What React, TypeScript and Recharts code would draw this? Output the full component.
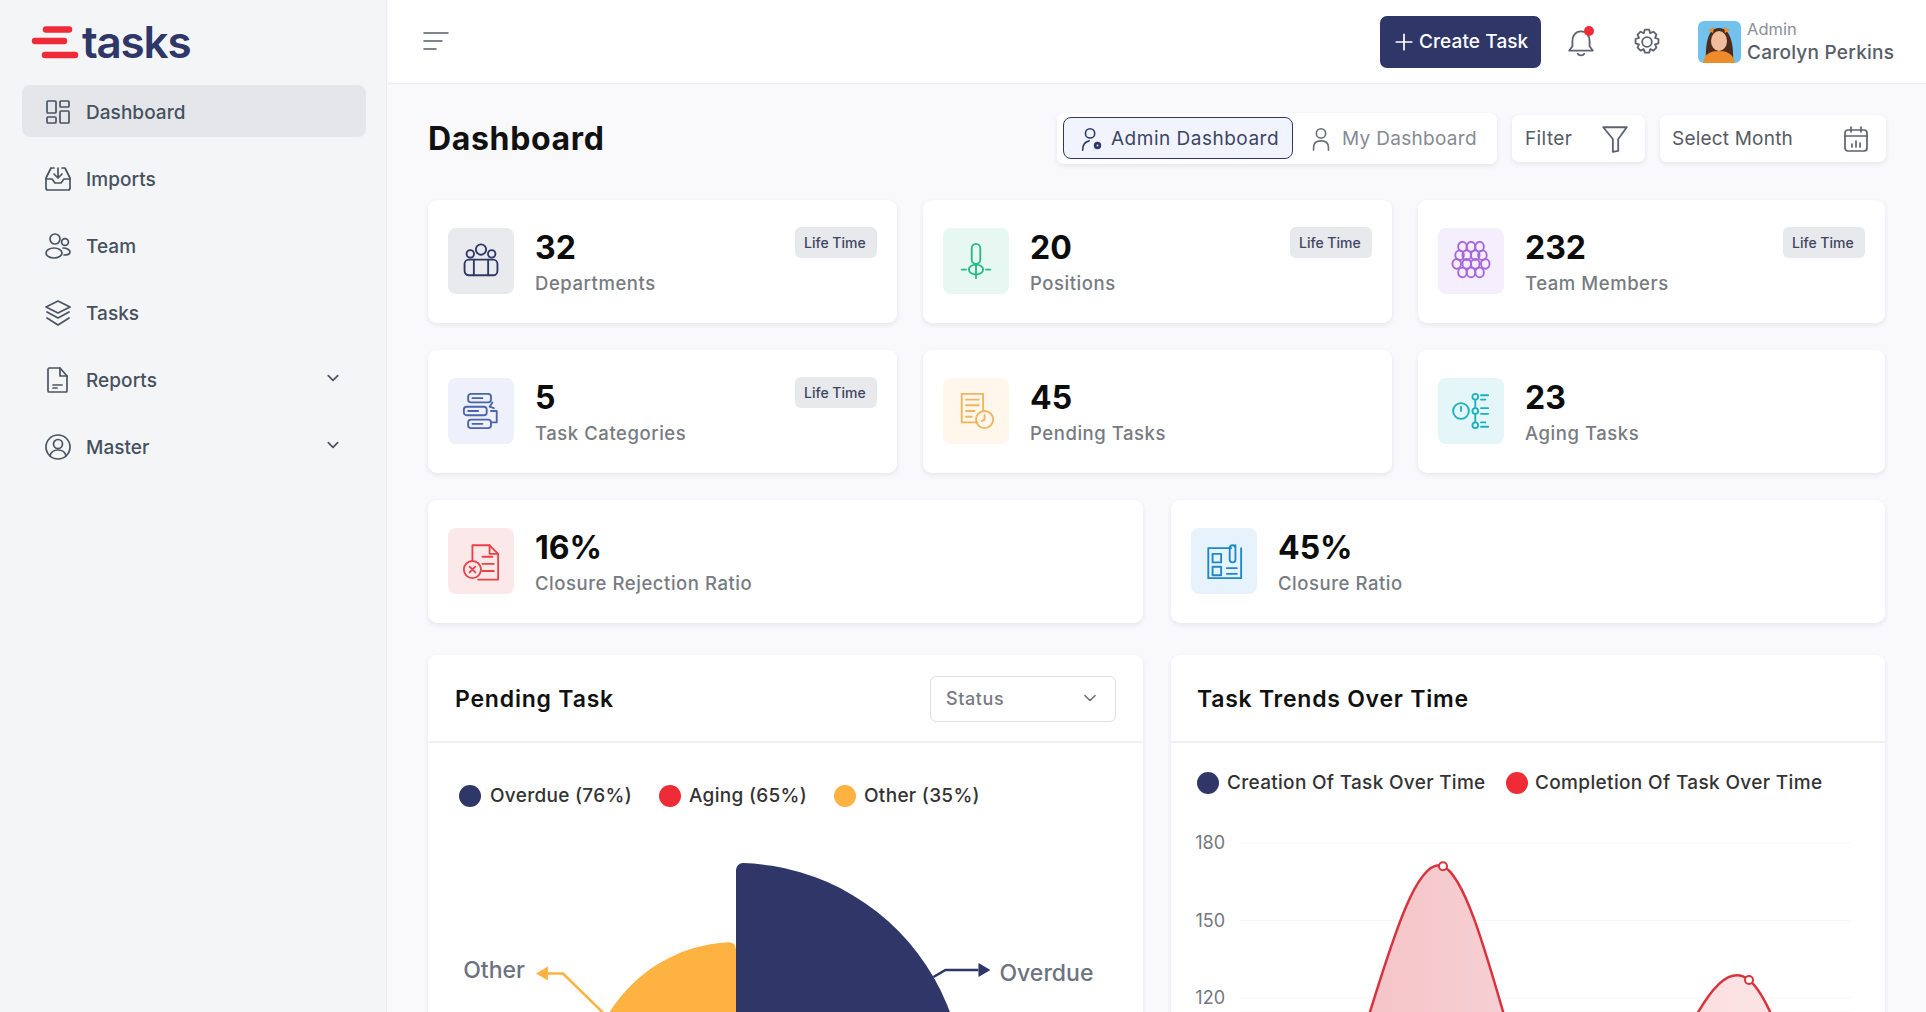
import React from "react";
import { Area, AreaChart, CartesianGrid, Pie, PieChart, XAxis, YAxis } from "recharts";

const NAVY = "#2f3768";
const RED = "#ee2b36";
const AMBER = "#fdb241";
const FONT = "Inter, 'Noto Sans', sans-serif";

// pending task rose chart
const pendingNames = ["Overdue", "Aging", "Other"];
const pendingShares = [76, 65, 35];
const pendingLegend = ["Overdue (76%)", "Aging (65%)", "Other (35%)"];

// task trends, the picture is cut off just under the 120 tick
const trendMonths = ["Jan", "Feb", "Mar", "Apr", "May", "Jun", "Jul"];
const creationValues = [40, 75, 95, 60, 50, 85, 45];
const completionValues = [20, 80, 171, 65, 75, 127, 0];
const trendTicks = [120, 150, 180];
const markedMonths = ["Mar", "Jun"];

const navItems = ["Dashboard", "Imports", "Team", "Tasks", "Reports", "Master"];
const statValues = ["32", "20", "232", "5", "45", "23", "16%", "45%"];
const statLabels = [
  "Departments",
  "Positions",
  "Team Members",
  "Task Categories",
  "Pending Tasks",
  "Aging Tasks",
  "Closure Rejection Ratio",
  "Closure Ratio",
];

const trendRows = trendMonths.map((month, i) => ({
  month,
  creation: creationValues[i],
  completion: completionValues[i],
}));

const sectorRadius: Record<string, number> = { Overdue: 228, Aging: 190, Other: 149 };
const sectorColor: Record<string, string> = { Overdue: NAVY, Aging: RED, Other: AMBER };
const leaderShape: Record<string, { out: number; up: number; run: number }> = {
  Overdue: { out: 12, up: 7, run: 33 },
  Other: { out: 44, up: 43, run: 15 },
};

function T({ x, y, size, weight = 400, color = "#333", children, spacing }: any) {
  return (
    <div
      style={{
        position: "absolute",
        left: x,
        top: y + 1,
        transform: "translateY(-50%)",
        fontSize: size,
        fontWeight: weight,
        color,
        whiteSpace: "nowrap",
        lineHeight: 1.2,
        letterSpacing: spacing,
      }}
    >
      {children}
    </div>
  );
}

function Box({ x, y, w, h, style }: any) {
  return <div style={{ position: "absolute", left: x, top: y, width: w, height: h, boxSizing: "border-box", ...style }} />;
}

function Ico({ x, y, size = 28, color = "#4a5462", sw = 1.7, children }: any) {
  return (
    <svg
      width={size}
      height={size}
      viewBox="0 0 28 28"
      fill="none"
      stroke={color}
      strokeWidth={sw}
      strokeLinecap="round"
      strokeLinejoin="round"
      style={{ position: "absolute", left: x - size / 2, top: y - size / 2 }}
    >
      {children}
    </svg>
  );
}

const chevron = <path d="M8 11l6 6 6-6" />;

const navIcons = [
  <g key="d">
    <rect x="3" y="3" width="9" height="12" rx="1" />
    <rect x="16" y="3" width="9" height="6" rx="1" />
    <rect x="3" y="19" width="9" height="6" rx="1" />
    <rect x="16" y="13" width="9" height="12" rx="1" />
  </g>,
  <g key="i">
    <path d="M7 3h3M18 3h3l5 10v10a2 2 0 0 1-2 2H4a2 2 0 0 1-2-2V13L7 3" />
    <path d="M2 14h6l3 4h6l3-4h6M14 3v10M10 9l4 4 4-4" />
  </g>,
  <g key="t">
    <circle cx="11" cy="7" r="5" />
    <circle cx="21" cy="10" r="3.4" />
    <ellipse cx="10" cy="21" rx="8" ry="5" />
    <path d="M19 16c4 0 7 2 7 4s-2 3-6 3" />
  </g>,
  <g key="s">
    <path d="M14 2l12 6-12 6L2 8z" />
    <path d="M3 13l11 6 11-6M3 19l11 7 11-7" />
  </g>,
  <g key="r">
    <path d="M5 2h11l7 8v15a1 1 0 0 1-1 1H5a1 1 0 0 1-1-1V3z" />
    <path d="M16 2v8h7M9 19h9M9 22h4" />
  </g>,
  <g key="m">
    <circle cx="14" cy="14" r="12" />
    <circle cx="14" cy="11" r="4.5" />
    <path d="M6 23c1-5 4-6 8-6s7 1 8 6" />
  </g>,
];

const statIcons = [
  <g key="0">
    <circle cx="14" cy="6" r="3.6" />
    <circle cx="6.5" cy="9" r="2.6" />
    <circle cx="21.5" cy="9" r="2.6" />
    <rect x="2.5" y="13" width="23" height="11" rx="3" />
    <path d="M9 13v11M19 13v11" />
  </g>,
  <g key="1">
    <rect x="11" y="2" width="6" height="14" rx="3" />
    <ellipse cx="14" cy="20" rx="5" ry="3.5" />
    <path d="M14 16v10M4 20h3M21 20h3" />
  </g>,
  <g key="2">
    {[
      [8, 4],
      [14, 4],
      [20, 4],
      [6, 10],
      [11, 10],
      [17, 10],
      [22, 10],
      [4, 16],
      [11, 16],
      [17, 16],
      [24, 16],
      [8, 22],
      [14, 22],
      [20, 22],
    ].map(([cx, cy], i) => (
      <ellipse key={i} cx={cx} cy={cy} rx="3" ry="3.4" />
    ))}
  </g>,
  <g key="3">
    <rect x="5" y="2" width="16" height="6" rx="2" />
    <rect x="2" y="11" width="16" height="6" rx="2" />
    <rect x="5" y="20" width="16" height="6" rx="2" />
    <path d="M8 5h7M5 14h7M8 23h7M21 14h4v8h-4M22 8l-2 3 3 1" />
  </g>,
  <g key="4">
    <path d="M15 22H4V2h15v12" />
    <path d="M7 6h9M7 10h9M7 14h6M7 18h4" />
    <circle cx="20" cy="20" r="6" />
    <path d="M20 17v3l-2 1" />
  </g>,
  <g key="5">
    <path d="M17 4v20" />
    <circle cx="17" cy="4" r="2" fill="#e5f6f8" />
    <circle cx="17" cy="14" r="2" fill="#e5f6f8" />
    <circle cx="17" cy="24" r="2" fill="#e5f6f8" />
    <circle cx="7" cy="14" r="5.5" />
    <path d="M7 11v3M21 3h5M21 6h3M21 12h5M21 16h5M21 22h3M21 25h5" />
  </g>,
  <g key="6">
    <path d="M8 14V3h12l6 6v18H12" />
    <path d="M20 3v6h6M15 11h7M15 16h8M15 21h8" />
    <circle cx="8" cy="20" r="6" />
    <path d="M6 18l4 4M10 18l-4 4" />
  </g>,
  <g key="7">
    <path d="M19 5H3v21h23V5" />
    <rect x="6" y="9" width="6" height="6" />
    <rect x="6" y="18" width="6" height="6" />
    <path d="M22 3v10a2 2 0 0 1-4 0V5a2 2 0 0 1 4 0M16 19h7M16 23h7" />
  </g>,
];

const statCards = [
  { x: 428, y: 200, w: 469, tile: "#e9eaee", ink: NAVY, life: true },
  { x: 923, y: 200, w: 469, tile: "#e7f7f2", ink: "#26b98a", life: true },
  { x: 1418, y: 200, w: 467, tile: "#f5eefc", ink: "#a566e0", life: true },
  { x: 428, y: 350, w: 469, tile: "#eef1fb", ink: "#4a63ad", life: true },
  { x: 923, y: 350, w: 469, tile: "#fff6ec", ink: "#f0b55e", life: false },
  { x: 1418, y: 350, w: 467, tile: "#e5f6f8", ink: "#1bb0bf", life: false },
  { x: 428, y: 500, w: 715, tile: "#fbe9ea", ink: "#e8434b", life: false },
  { x: 1171, y: 500, w: 714, tile: "#e6f3fc", ink: "#1d88c8", life: false },
];

const cardStyle = {
  background: "#fff",
  borderRadius: 9,
  boxShadow: "0 2px 5px rgba(30,40,70,0.09)",
};

function sectorLabel(props: any) {
  const { cx, cy, midAngle, outerRadius, name } = props;
  const leader = leaderShape[name];
  if (!leader) return null; // the aging label sits below the visible part
  const rad = (midAngle * Math.PI) / 180;
  const sx = cx + outerRadius * Math.cos(rad);
  const sy = cy - outerRadius * Math.sin(rad);
  const dir = Math.cos(rad) >= 0 ? 1 : -1;
  const ex = sx + dir * leader.out;
  const ey = sy - leader.up;
  const bx = ex + dir * leader.run;
  const color = sectorColor[name];
  return (
    <g>
      <path d={`M${sx},${sy}L${ex},${ey}H${bx}`} fill="none" stroke={color} strokeWidth={2.5} />
      <path d={`M${bx},${ey - 7}L${bx + dir * 12},${ey}L${bx},${ey + 7}Z`} fill={color} />
      <text
        x={bx + dir * (name === "Other" ? 23 : 21)}
        y={ey + (name === "Other" ? 4 : 11)}
        textAnchor={dir > 0 ? "start" : "end"}
        fontSize={23}
        fontWeight={500}
        fill="#6d7280"
        fontFamily={FONT}
      >
        {name}
      </text>
    </g>
  );
}

function PendingChart() {
  return (
    <PieChart width={716} height={182} margin={{ top: 0, right: 0, bottom: 0, left: 0 }}>
      {pendingNames.map((name, i) => (
        <Pie
          key={name}
          data={[{ name, value: pendingShares[i] }]}
          dataKey="value"
          nameKey="name"
          cx={308}
          cy={261}
          innerRadius={0}
          outerRadius={sectorRadius[name]}
          startAngle={90 - i * 120}
          endAngle={-30 - i * 120}
          cornerRadius={7}
          fill={sectorColor[name]}
          stroke="none"
          label={sectorLabel}
          labelLine={false}
          isAnimationActive={false}
        />
      ))}
    </PieChart>
  );
}

function peakDot(props: any) {
  const { cx, cy, payload, index } = props;
  if (!markedMonths.includes(payload.month)) return <g key={index} />;
  return <circle key={index} cx={cx} cy={cy} r={4} fill="#fff" stroke="#d9333d" strokeWidth={2} />;
}

function TrendChart() {
  return (
    <AreaChart width={715} height={182} data={trendRows} margin={{ top: 13, right: 35, bottom: 0, left: 0 }}>
      <defs>
        <linearGradient id="fill-completion" x1="0" y1="0" x2="1" y2="0">
          <stop offset="20%" stopColor="#f4c4c8" />
          <stop offset="90%" stopColor="#fce6e7" />
        </linearGradient>
      </defs>
      <CartesianGrid vertical={false} stroke="#f6f6f8" />
      <XAxis dataKey="month" hide />
      <YAxis
        width={68}
        domain={[114.6, 180]}
        allowDataOverflow
        ticks={trendTicks}
        axisLine={false}
        tickLine={false}
        tickSize={0}
        tickMargin={14}
        tick={{ fontSize: 18, fill: "#73777f", fontFamily: FONT }}
      />
      <Area
        type="natural"
        dataKey="creation"
        stroke={NAVY}
        strokeWidth={2.5}
        fill={NAVY}
        fillOpacity={0.2}
        isAnimationActive={false}
      />
      <Area
        type="natural"
        dataKey="completion"
        stroke="#d9333d"
        strokeWidth={2.5}
        fill="url(#fill-completion)"
        fillOpacity={1}
        dot={peakDot}
        isAnimationActive={false}
      />
    </AreaChart>
  );
}

function Dot({ x, y, color }: any) {
  return <Box x={x - 11} y={y - 11} w={22} h={22} style={{ background: color, borderRadius: "50%" }} />;
}

export default function App() {
  return (
    <div style={{ position: "relative", width: 1926, height: 1012, overflow: "hidden", background: "#f9f9fc", fontFamily: FONT }}>
      <style>{"body{margin:0;overflow:hidden}"}</style>

      {/* sidebar */}
      <Box x={0} y={0} w={387} h={1012} style={{ background: "#f4f5f7", borderRight: "1px solid #ececef" }} />
      <svg width={50} height={40} style={{ position: "absolute", left: 30, top: 24 }}>
        <path d="M16 5.5H39M5 17H34M15 31H45" stroke={RED} strokeWidth={6.5} strokeLinecap="round" />
      </svg>
      <T x={82} y={41} size={44} weight={600} color={NAVY} spacing={-1.2}>
        tasks
      </T>
      <Box x={22} y={85} w={344} h={52} style={{ background: "#e5e6e9", borderRadius: 8 }} />
      {navItems.map((item, i) => (
        <React.Fragment key={item}>
          <Ico x={58} y={112 + i * 67}>
            {navIcons[i]}
          </Ico>
          <T x={86} y={112 + i * 66.9} size={19} weight={500} color="#465160" spacing={0.05}>
            {item}
          </T>
          {i >= 4 && (
            <Ico x={333} y={112 + i * 67 - 2} size={22} sw={2.2}>
              {chevron}
            </Ico>
          )}
        </React.Fragment>
      ))}

      {/* top bar */}
      <Box x={388} y={0} w={1538} h={84} style={{ background: "#fff", borderBottom: "1px solid #ebebee" }} />
      <Ico x={436} y={41} size={28} color="#555b66" sw={1.6}>
        <path d="M2 6h24M2 14h18M2 22h12" />
      </Ico>
      <Box x={1380} y={16} w={161} h={52} style={{ background: NAVY, borderRadius: 7 }} />
      <Ico x={1404} y={42} size={24} color="#fff" sw={2}>
        <path d="M14 5v18M5 14h18" />
      </Ico>
      <T x={1419} y={41} size={19} weight={500} color="#fff" spacing={0.1}>
        Create Task
      </T>
      <Ico x={1581} y={42} size={30} color="#5c6270">
        <path d="M14 4c-5 0-8 4-8 9v5l-3 4h22l-3-4v-5c0-5-3-9-8-9zM11 25c1 2 5 2 6 0" />
      </Ico>
      <Box x={1584} y={26} w={10} h={10} style={{ background: RED, borderRadius: "50%" }} />
      <Ico x={1647} y={42} size={30} color="#5c6270">
        <circle cx="14" cy="14" r="4.5" />
        <path d="M12 2.5h4l1 3.2 3-1.3 2.8 2.8-1.3 3 3.2 1v4l-3.2 1 1.3 3-2.8 2.8-3-1.3-1 3.2h-4l-1-3.2-3 1.3-2.8-2.8 1.3-3-3.2-1v-4l3.2-1-1.3-3L8 4.4l3 1.3z" />
      </Ico>
      <svg width={43} height={42} viewBox="0 0 43 42" style={{ position: "absolute", left: 1698, top: 21, borderRadius: 6 }}>
        <rect width="43" height="42" fill="#71c2ee" />
        <path d="M8 42C7 22 10 7 21 7s15 15 14 35z" fill="#4d2a1c" />
        <ellipse cx="21" cy="20" rx="8" ry="10" fill="#f0bd9c" />
        <path d="M5 42c1-9 7-12 16-12s14 3 16 12z" fill="#ee8c2b" />
        <path d="M10 9l6-3-1 6zM32 9l-6-3 1 6z" fill="#ee8c2b" />
      </svg>
      <T x={1747} y={29} size={16.5} color="#8b8f98">
        Admin
      </T>
      <T x={1747} y={52} size={19} weight={500} color="#585d68" spacing={0.25}>
        Carolyn Perkins
      </T>

      {/* page head */}
      <T x={428} y={138} size={32} weight={700} color="#111" spacing={0.65}>
        Dashboard
      </T>
      <Box x={1057} y={113} w={440} h={51} style={{ ...cardStyle, borderRadius: 7 }} />
      <Box x={1063} y={117} w={230} h={42} style={{ background: "#f1f4fd", border: `1.5px solid ${NAVY}`, borderRadius: 8 }} />
      <Ico x={1091} y={139} size={26} color={NAVY}>
        <circle cx="13" cy="8" r="5" />
        <path d="M5 26c0-6 2-9 7-10" />
        <circle cx="21" cy="21" r="2.5" strokeWidth="3" />
      </Ico>
      <T x={1111} y={138} size={19} color="#3d4563" spacing={0.5}>
        Admin Dashboard
      </T>
      <Ico x={1321} y={139} size={26} color="#666c78">
        <circle cx="14" cy="8" r="5" />
        <path d="M6 26v-3c0-5 3-7 8-7s8 2 8 7v3" />
      </Ico>
      <T x={1342} y={138} size={19} color="#868a94" spacing={0.3}>
        My Dashboard
      </T>
      <Box x={1512} y={115} w={133} h={47} style={{ ...cardStyle, borderRadius: 7 }} />
      <T x={1525} y={138} size={19} color="#555a66" spacing={0.4}>
        Filter
      </T>
      <Ico x={1615} y={139} size={30} color="#5c6270">
        <path d="M3 3h22l-8 11v11l-5 1V14z" />
      </Ico>
      <Box x={1660} y={115} w={226} h={47} style={{ ...cardStyle, borderRadius: 7 }} />
      <T x={1672} y={138} size={19} color="#555a66" spacing={0.2}>
        Select Month
      </T>
      <Ico x={1856} y={139} size={28} color="#5c6270">
        <rect x="3" y="5" width="22" height="21" rx="3" />
        <path d="M3 11h22M9 2v5M19 2v5M10 22v-3M14 22v-6M18 22v-4" />
      </Ico>

      {/* stat cards */}
      {statCards.map((c, i) => (
        <React.Fragment key={statLabels[i]}>
          <Box x={c.x} y={c.y} w={c.w} h={123} style={cardStyle} />
          <Box x={c.x + 20} y={c.y + 28} w={66} h={66} style={{ background: c.tile, borderRadius: 8 }} />
          <Ico x={c.x + 53} y={c.y + 61} size={40} color={c.ink} sw={1.3}>
            {statIcons[i]}
          </Ico>
          <T x={c.x + 107} y={c.y + 47} size={32} weight={700} color="#0c0c0c">
            {statValues[i]}
          </T>
          <T x={c.x + 107} y={c.y + 82} size={18.5} weight={500} color="#777b82" spacing={0.55}>
            {statLabels[i]}
          </T>
          {c.life && (
            <>
              <Box x={c.x + c.w - 102} y={c.y + 27} w={82} h={31} style={{ background: "#e8e9ec", borderRadius: 6 }} />
              <T x={c.x + c.w - 93} y={c.y + 42} size={14} weight={500} color="#3d4563">
                Life Time
              </T>
            </>
          )}
        </React.Fragment>
      ))}

      {/* pending task */}
      <Box x={428} y={655} w={715} h={400} style={cardStyle} />
      <Box x={428} y={741} w={715} h={2} style={{ background: "#f1f1f4" }} />
      <T x={455} y={699} size={23} weight={600} color="#111" spacing={0.8}>
        Pending Task
      </T>
      <Box x={930} y={676} w={186} h={46} style={{ background: "#fff", border: "1.5px solid #dedfe3", borderRadius: 6 }} />
      <T x={946} y={698} size={18} weight={500} color="#777b83" spacing={0.6}>
        Status
      </T>
      <Ico x={1090} y={698} size={24} color="#666b75">
        {chevron}
      </Ico>
      {pendingLegend.map((label, i) => (
        <React.Fragment key={label}>
          <Dot x={[470, 670, 845][i]} y={796} color={sectorColor[pendingNames[i]]} />
          <T x={[490, 689, 864][i]} y={795} size={19} weight={500} color="#333" spacing={0.3}>
            {label}
          </T>
        </React.Fragment>
      ))}
      <div style={{ position: "absolute", left: 428, top: 830 }}>
        <PendingChart />
      </div>

      {/* task trends */}
      <Box x={1171} y={655} w={714} h={400} style={cardStyle} />
      <Box x={1171} y={741} w={714} h={2} style={{ background: "#f1f1f4" }} />
      <T x={1197} y={699} size={23} weight={600} color="#111" spacing={0.75}>
        Task Trends Over Time
      </T>
      <Dot x={1208} y={783} color={NAVY} />
      <T x={1227} y={782} size={19} weight={500} color="#333" spacing={0.3}>
        Creation Of Task Over Time
      </T>
      <Dot x={1517} y={783} color={RED} />
      <T x={1535} y={782} size={19} weight={500} color="#333" spacing={0.35}>
        Completion Of Task Over Time
      </T>
      <div style={{ position: "absolute", left: 1171, top: 830 }}>
        <TrendChart />
      </div>
    </div>
  );
}
